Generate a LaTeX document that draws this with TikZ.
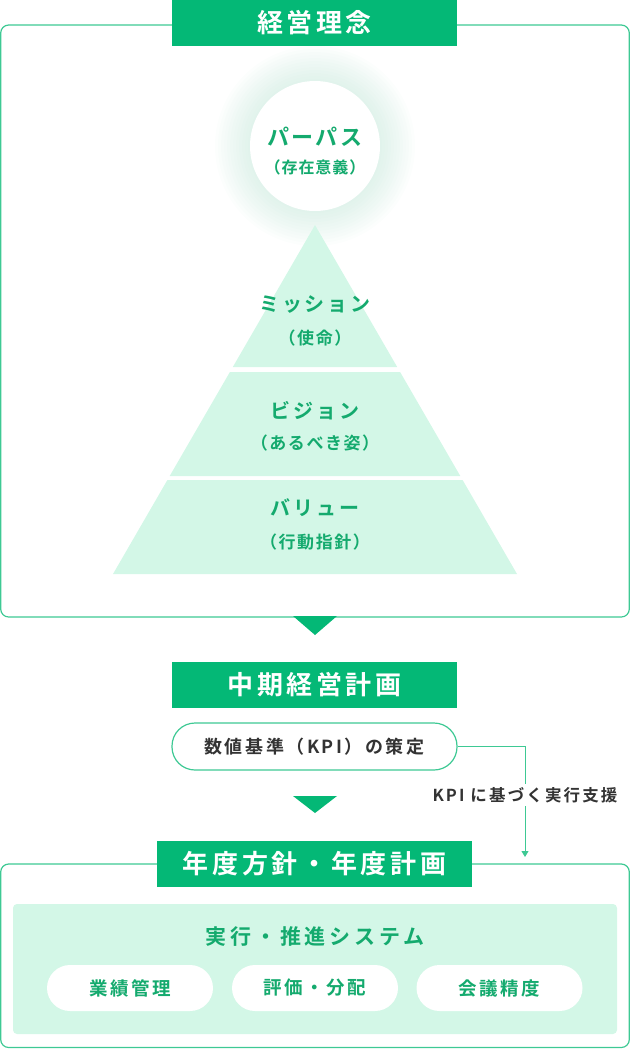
\documentclass[tikz,border=0pt]{standalone}
\usepackage{fontspec}
\setmainfont{Noto Sans CJK JP}[BoldFont={* Bold}]
\newfontfamily\jpbold{Noto Sans CJK JP Bold}
\newcommand\spaced[2]{\jpbold\addfontfeature{LetterSpace=#1}\fontsize{#2}{#2}\selectfont}
\usetikzlibrary{arrows.meta}

\definecolor{keygreen}{RGB}{4,184,118}
\definecolor{linegreen}{RGB}{62,201,148}
\definecolor{mint}{RGB}{211,247,231}
\definecolor{textgreen}{RGB}{20,170,110}
\definecolor{darktext}{RGB}{51,51,51}
\definecolor{glow}{RGB}{170,220,200}

\tikzset{
  titlebar/.style={fill=keygreen, text=white, minimum width=285, minimum height=46, inner sep=0pt, font=\spaced{14}{26}},
  pill/.style={rounded corners=23, fill=white, minimum width=166, minimum height=46, inner sep=0pt, text=textgreen, font=\spaced{14}{18.5}},
  headtext/.style={text=textgreen, inner sep=0pt, font=\spaced{14}{20}},
  subtext/.style={text=textgreen, inner sep=0pt, font=\spaced{9}{17}},
  frame/.style={draw=linegreen, line width=1.2pt, rounded corners=8},
  conn/.style={draw=linegreen, line width=1pt},
}

\begin{document}
\begin{tikzpicture}[x=1pt,y=1pt,yscale=-1,xscale=1]
\useasboundingbox (0,0) rectangle (630,1050);

%Shape: Rectangle - outer frame
\draw [frame] (0.7,25) rectangle (629.3,617);

%Shape: Glow round the circle
\foreach \r in {67,70,...,100}
  \fill [glow, opacity=0.035] (315,146) circle (\r);

%Shape: Pyramid bands
\fill [mint] (315,225) -- (397.2,367) -- (232.8,367) -- cycle;
\fill [mint] (229.9,372) -- (400.1,372) -- (460.3,476) -- (169.7,476) -- cycle;
\fill [mint] (167.4,480) -- (462.6,480) -- (517,574) -- (113,574) -- cycle;

%Shape: Circle
\fill [white] (315,146) circle (65);

% Text Node
\node [titlebar] (philo) at (314.5,23) {経営理念};
\node [headtext, font=\spaced{10}{22}] (purpose) at (315,137) {パーパス};
\node [subtext, font=\spaced{6}{16}] (purposesub) at (315,167) {（存在意義）};
\node [headtext] (mission) at (315,305) {ミッション};
\node [subtext] (missionsub) at (315,338) {（使命）};
\node [headtext] (vision) at (315,411) {ビジョン};
\node [subtext] (visionsub) at (315,443) {（あるべき姿）};
\node [headtext] (value) at (315,508) {バリュー};
\node [subtext] (valuesub) at (315,542) {（行動指針）};

%Shape: Down triangles
\fill [keygreen] (293,616) -- (337,616) -- (315,635) -- cycle;
\fill [keygreen] (293,796) -- (337,796) -- (315,813) -- cycle;

% Text Node
\node [titlebar] (midplan) at (314.5,685) {中期経営計画};
\node [pill, draw=linegreen, line width=1.2pt, minimum width=285, minimum height=47, text=darktext, font=\spaced{14}{18}] (kpi) at (314.5,746.5) {数値基準（KPI）の策定};

%Straight Lines - KPI support
\coordinate (kpitip) at (525,857);
\draw [conn, -{Triangle[width=7pt,length=6pt]}] (kpi.east) -| (kpitip);
\node [fill=white, text=darktext, inner sep=3pt, font=\spaced{13}{16.5}] (kpilabel) at (525,795) {KPI に基づく実行支援};

%Shape: Rectangle - lower frame
\draw [frame] (0.7,864) rectangle (629.3,1047.5);
\fill [mint, rounded corners=4] (13,904) rectangle (617,1034);

% Text Node
\node [titlebar, minimum width=315] (yearplan) at (314.5,864) {年度方針・年度計画};
\node [headtext, font=\spaced{18}{21}] (system) at (315,937) {実行・推進システム};
\node [pill] (perf) at (130,988) {業績管理};
\node [pill] (eval) at (315,988) {評価・分配};
\node [pill] (meet) at (499.5,988) {会議精度};

\end{tikzpicture}
\end{document}
